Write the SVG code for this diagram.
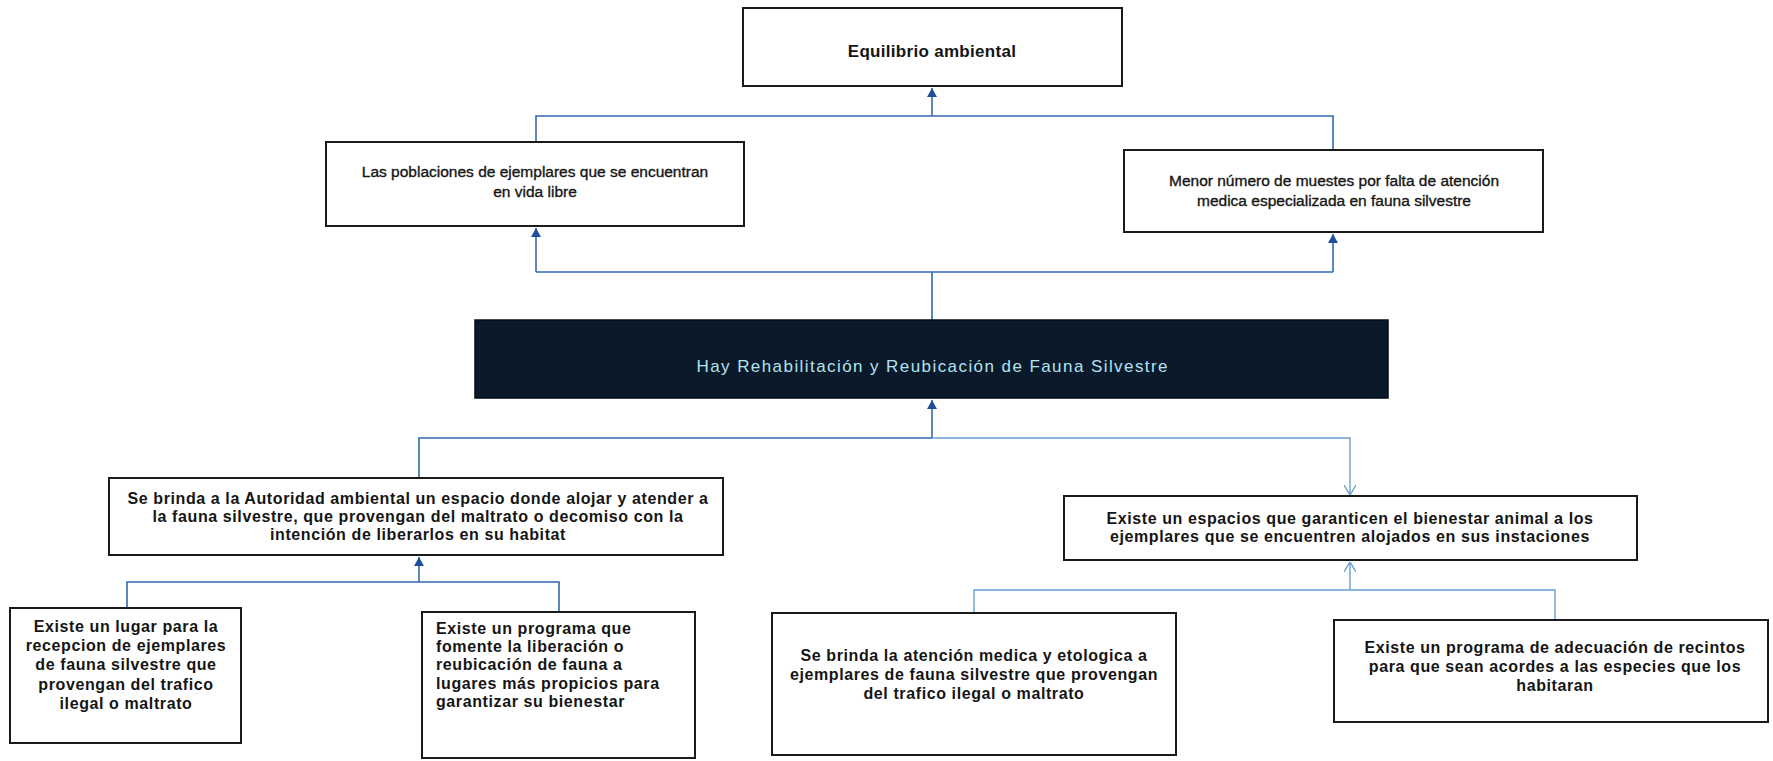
<svg xmlns="http://www.w3.org/2000/svg" width="1773" height="761" viewBox="0 0 1773 761">
<style>
.box{fill:#fff;stroke:#1a1a1a;stroke-width:2}
.t{font-family:"Liberation Sans",Arial,sans-serif;font-size:16px;font-weight:bold;letter-spacing:0.6px;fill:#151515}
.tr{font-family:"Liberation Sans",Arial,sans-serif;font-size:15.5px;fill:#151515;stroke:#151515;stroke-width:0.35px}
.c{text-anchor:middle}
.ln{fill:none;stroke:#3468ad;stroke-width:1.6}
.lnl{fill:none;stroke:#6a9fd0;stroke-width:1.4}
</style>
<defs>
<marker id="af" markerUnits="userSpaceOnUse" markerWidth="9" markerHeight="10" refX="9" refY="5" orient="auto"><path d="M0,0 L9,5 L0,10 z" fill="#1f4f9c"/></marker>
<marker id="ao" markerUnits="userSpaceOnUse" markerWidth="10" markerHeight="12" refX="10" refY="6" orient="auto"><path d="M0,0 L10,6 L0,12" fill="none" stroke="#6a9fd0" stroke-width="1.4"/></marker>
</defs>
<rect width="1773" height="761" fill="#fff"/>
<g id="connectors">
<path class="ln" d="M932,116 V88" marker-end="url(#af)"/>
<path class="ln" d="M536,142 V116 H1333 V150"/>
<path class="ln" d="M536,272 H1333 M932,272 V320"/>
<path class="ln" d="M536,272 V228" marker-end="url(#af)"/>
<path class="ln" d="M1333,272 V234" marker-end="url(#af)"/>
<path class="ln" d="M932,438 V400" marker-end="url(#af)"/>
<path class="ln" d="M419,478 V438 H932"/>
<path class="lnl" d="M932,438 H1350 V495" marker-end="url(#ao)"/>
<path class="ln" d="M127,608 V582 H559 V612"/>
<path class="ln" d="M419,582 V557" marker-end="url(#af)"/>
<path class="lnl" d="M974,613 V590 H1555 V620"/>
<path class="lnl" d="M1350,590 V562" marker-end="url(#ao)"/>
</g>
<g id="n-top">
<rect class="box" x="743" y="8" width="379" height="78"/>
<text class="t c" x="932" y="57" style="font-size:17px;letter-spacing:0.3px">Equilibrio ambiental</text>
</g>
<g id="n-l2-left">
<rect class="box" x="326" y="142" width="418" height="84"/>
<text class="tr c" x="535" y="177">Las poblaciones de ejemplares que se encuentran</text>
<text class="tr c" x="535" y="197">en vida libre</text>
</g>
<g id="n-l2-right">
<rect class="box" x="1124" y="150" width="419" height="82"/>
<text class="tr c" x="1334" y="186">Menor número de muestes por falta de atención</text>
<text class="tr c" x="1334" y="206">medica especializada en fauna silvestre</text>
</g>
<g id="n-center">
<rect x="475" y="320" width="913" height="78" fill="#0b1a2b" stroke="#050d18" stroke-width="1.5"/>
<text x="932" y="372" text-anchor="middle" textLength="471" lengthAdjust="spacing" font-family="Liberation Sans, Arial, sans-serif" font-size="17" fill="#b3e2ef">Hay Rehabilitación y Reubicación de Fauna Silvestre</text>
</g>
<g id="n-l3-left">
<rect class="box" x="109" y="478" width="614" height="77"/>
<text class="t c" x="418" y="504">Se brinda a la Autoridad ambiental un espacio donde alojar y atender a</text>
<text class="t c" x="418" y="522">la fauna silvestre, que provengan del maltrato o decomiso con la</text>
<text class="t c" x="418" y="540">intención de liberarlos en su habitat</text>
</g>
<g id="n-l3-right">
<rect class="box" x="1064" y="496" width="573" height="64"/>
<text class="t c" x="1350" y="524">Existe un espacios que garanticen el bienestar animal a los</text>
<text class="t c" x="1350" y="542">ejemplares que se encuentren alojados en sus instaciones</text>
</g>
<g id="n-b1">
<rect class="box" x="10" y="608" width="231" height="135"/>
<text class="t c" x="126" y="632">Existe un lugar para la</text>
<text class="t c" x="126" y="651">recepcion de ejemplares</text>
<text class="t c" x="126" y="670">de fauna silvestre que</text>
<text class="t c" x="126" y="690">provengan del trafico</text>
<text class="t c" x="126" y="709">ilegal o maltrato</text>
</g>
<g id="n-b2">
<rect class="box" x="422" y="612" width="273" height="146"/>
<text class="t" x="436" y="634">Existe un programa que</text>
<text class="t" x="436" y="652">fomente la liberación o</text>
<text class="t" x="436" y="670">reubicación de fauna a</text>
<text class="t" x="436" y="689">lugares más propicios para</text>
<text class="t" x="436" y="707">garantizar su bienestar</text>
</g>
<g id="n-b3">
<rect class="box" x="772" y="613" width="404" height="142"/>
<text class="t c" x="974" y="661">Se brinda la atención medica y etologica a</text>
<text class="t c" x="974" y="680">ejemplares de fauna silvestre que provengan</text>
<text class="t c" x="974" y="699">del trafico ilegal o maltrato</text>
</g>
<g id="n-b4">
<rect class="box" x="1334" y="620" width="434" height="102"/>
<text class="t c" x="1555" y="653">Existe un programa de adecuación de recintos</text>
<text class="t c" x="1555" y="672">para que sean acordes a las especies que los</text>
<text class="t c" x="1555" y="691">habitaran</text>
</g>
</svg>
